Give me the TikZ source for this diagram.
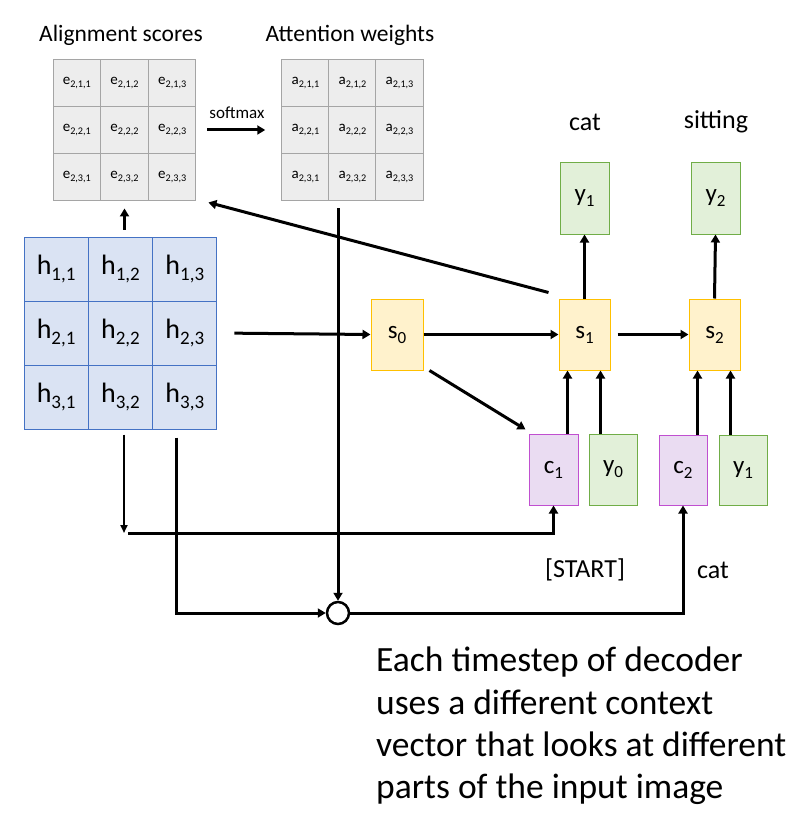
\documentclass[tikz,border=0pt]{standalone}
\usepackage{fontspec}
\setmainfont{Carlito}
\usetikzlibrary{arrows.meta,calc}
\definecolor{gfill}{HTML}{EDEDED}
\definecolor{gline}{HTML}{A5A5A5}
\definecolor{hfill}{HTML}{DAE3F3}
\definecolor{hline}{HTML}{4472C4}
\definecolor{sfill}{HTML}{FFF2CC}
\definecolor{sline}{HTML}{FFC000}
\definecolor{yfill}{HTML}{E2F0D9}
\definecolor{yline}{HTML}{70AD47}
\definecolor{cfill}{HTML}{EADCF2}
\definecolor{cline}{HTML}{C04FD0}
\tikzset{
  ecell/.style={draw=gline, fill=gfill, line width=1pt, minimum width=47.5pt, minimum height=47.3pt, inner sep=0pt, font=\fontsize{15}{17}\selectfont},
  hcell/.style={draw=hline, fill=hfill, line width=1pt, minimum width=64.3pt, minimum height=64pt, inner sep=0pt, font=\fontsize{28}{32}\selectfont},
  sbox/.style={draw=sline, fill=sfill, line width=1pt, minimum width=52pt, minimum height=71pt, inner sep=0pt, font=\fontsize{25}{29}\selectfont},
  ybox/.style={draw=yline, fill=yfill, line width=1pt, minimum width=49pt, minimum height=71pt, inner sep=0pt, font=\fontsize{25}{29}\selectfont},
  cbox/.style={draw=cline, fill=cfill, line width=1pt, minimum width=49pt, minimum height=71pt, inner sep=0pt, font=\fontsize{25}{29}\selectfont},
  ttl/.style={font=\fontsize{23.5}{27}\selectfont, inner sep=0pt},
  lbl/.style={font=\fontsize{26}{30}\selectfont, inner sep=0pt},
  arr/.style={line width=3pt, -{Triangle[length=8pt,width=9pt]}},
  thinarr/.style={line width=2pt, -{Triangle[length=8pt,width=7pt]}},
}
\newcommand{\sub}[2]{#1\raisebox{-0.2em}{\scalebox{0.68}{#2}}}
\begin{document}
\begin{tikzpicture}[x=1pt,y=-1pt]
\useasboundingbox (0,0) rectangle (811,829);
% grids
\foreach \r in {1,2,3}{
  \foreach \c in {1,2,3}{
    \node[ecell] (e-\r-\c) at ({53+47.67*(\c-0.5)},{59+47.33*(\r-0.5)}) {\sub{e}{2,\r,\c}};
    \node[ecell] (a-\r-\c) at ({282+47*(\c-0.5)},{59+47.33*(\r-0.5)}) {\sub{a}{2,\r,\c}};
    \node[hcell] (h-\r-\c) at ({24+64.33*(\c-0.5)},{237+64*(\r-0.5)}) {\sub{h}{\r,\c}};
  }
}
\node[ttl] (etitle) at (121,35) {Alignment scores};
\node[ttl] (atitle) at (350,35) {Attention weights};
\node[font=\fontsize{17}{19}\selectfont, inner sep=0pt] (smx) at (237,113) {softmax};
% decoder boxes
\node[sbox] (s0) at (397,334.5) {\sub{s}{0}};
\node[sbox, minimum width=51pt] (s1) at (584.5,334.5) {\sub{s}{1}};
\node[sbox, minimum width=51pt] (s2) at (714.5,334.5) {\sub{s}{2}};
\node[ybox] (yt1) at (584.5,198.5) {\sub{y}{1}};
\node[ybox] (yt2) at (715.5,198.5) {\sub{y}{2}};
\node[cbox] (c1) at (553.5,469.5) {\sub{c}{1}};
\node[ybox, minimum width=48pt] (y0) at (613,469.5) {\sub{y}{0}};
\node[cbox, minimum width=48pt, minimum height=70pt] (c2) at (683,470) {\sub{c}{2}};
\node[ybox, minimum width=48pt, minimum height=70pt] (yb1) at (743,470) {\sub{y}{1}};
\node[lbl] (cat1) at (585,122) {cat};
\node[lbl] (sit) at (716,122) {sitting};
\node[lbl] (start) at (585,570) {[START]};
\node[lbl] (cat2) at (713,570) {cat};
\node[circle, draw, line width=2.5pt, minimum size=22pt, inner sep=0pt] (circ) at (338,613) {};
\node[anchor=north west, align=left, inner sep=0pt, font=\fontsize{35.5}{42.3}\selectfont] (note) at (376,647) {Each timestep of decoder\\uses a different context\\vector that looks at different\\parts of the input image};
% connectors
\draw[arr, shorten <=7pt, shorten >=7pt] (h-1-2.north -| e-3-2.south) -- (e-3-2.south);
\draw[arr, shorten <=11pt, shorten >=16pt] (e-2-3.east) -- (a-2-1.west);
\draw[arr, shorten <=7pt] (a-3-2.south -| circ.north) -- (circ.north);
\draw[arr] ($(s1.north west)+(-10,-6)$) -- ($(e-3-3.south east)+(12,1)$);
\draw[arr, shorten <=17pt] (h-2-3.east) -- (s0.west);
\draw[arr] (s0.east) -- (s1.west);
\draw[arr, shorten <=7pt] (s1.east) -- (s2.west);
\draw[arr] (s1.north) -- (yt1.south);
\draw[arr] (s2.north) -- (yt2.south);
\draw[arr] ([xshift=-11pt]c1.north east) -- ([xshift=-11pt]c1.north east |- s1.south);
\draw[arr] ([xshift=12pt]y0.north west) -- ([xshift=12pt]y0.north west |- s1.south);
\draw[arr] ([xshift=-10pt]c2.north east) -- ([xshift=-10pt]c2.north east |- s2.south);
\draw[arr] ([xshift=12pt]yb1.north west) -- ([xshift=12pt]yb1.north west |- s2.south);
\draw[arr] ($(s0.south east)+(6,0)$) -- ($(c1.north west)+(-3,-4)$);
\coordinate (j1) at (124,533);
\coordinate (j1b) at (128,533);
\coordinate (j2) at (176,613);
\draw[thinarr, shorten <=5pt] (h-3-2.south -| j1) -- (j1);
\draw[arr] (j1b) -| (c1.south);
\draw[arr, shorten <=8pt] (h-3-3.south -| j2) -- (j2) -- (circ.west);
\draw[arr] (circ.east) -| (c2.south);
\end{tikzpicture}
\end{document}
